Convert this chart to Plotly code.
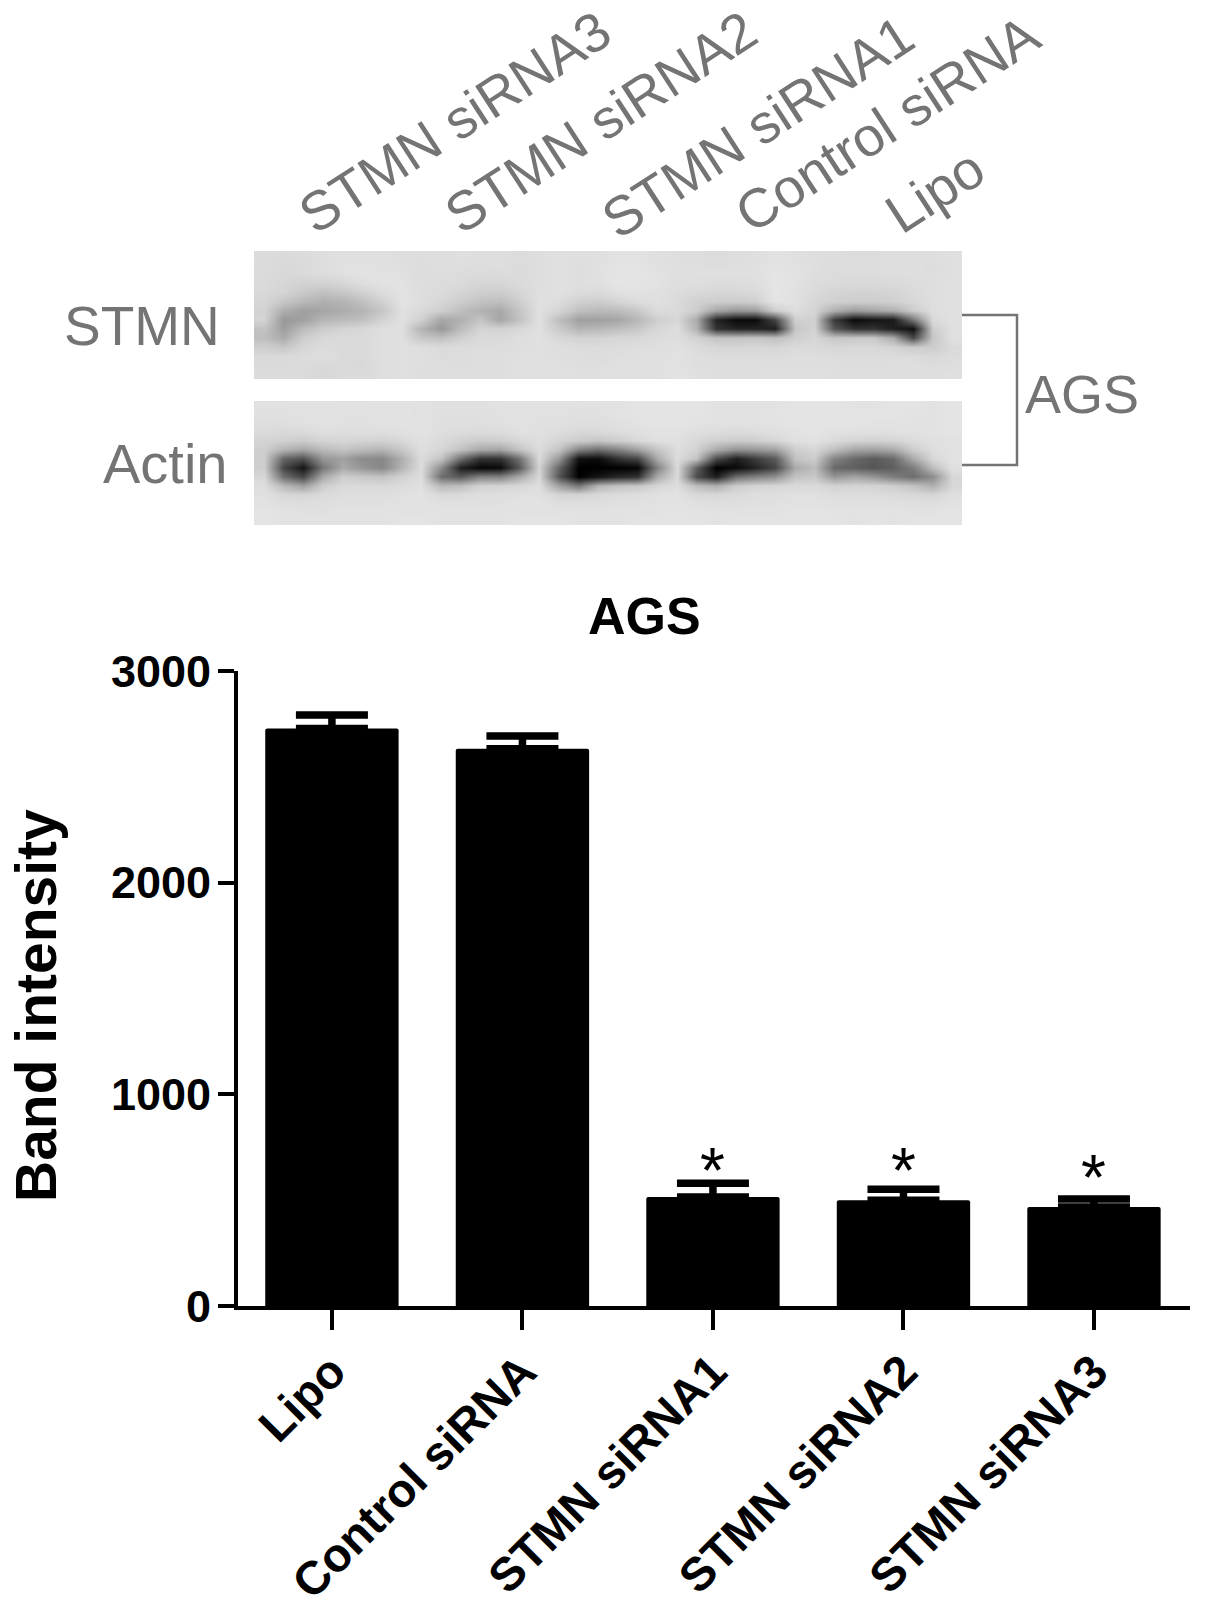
import plotly.graph_objects as go

W, H = 1205, 1611

categories = ["Lipo", "Control siRNA", "STMN siRNA1", "STMN siRNA2", "STMN siRNA3"]
band_intensity = [2728, 2633, 515, 500, 468]
band_error = [64, 60, 65, 52, 37]
asterisk_level = [None, None, 698, 698, 665]
y_ticks = [0, 1000, 2000, 3000]
lane_labels = ["STMN siRNA3", "STMN siRNA2", "STMN siRNA1", "Control siRNA", "Lipo"]

stmn_blot = [
 [220,218,220,222,224,223,224,222,221,222,223,222,221,220,222,224,223,224,226,226,224,222,221,220,221,223,226,224,222,221,220,220,222,222,222,224],
 [219,217,218,222,225,225,224,223,221,222,222,221,222,219,221,224,222,224,227,227,224,223,222,221,222,224,226,225,222,220,220,221,222,222,221,224],
 [219,216,218,221,224,226,226,224,220,221,220,219,220,219,222,224,222,224,228,228,226,222,224,224,224,224,228,226,222,220,220,220,221,222,221,224],
 [218,214,210,210,214,222,226,226,221,220,218,214,214,218,222,224,222,224,228,228,226,222,222,220,220,222,229,226,220,218,217,217,218,220,222,224],
 [216,212,200,192,198,208,220,226,221,219,212,206,204,214,223,224,220,218,224,226,224,220,216,214,214,217,229,224,218,212,210,210,212,218,222,224],
 [214,198,185,175,180,192,208,226,222,214,204,194,190,206,224,220,208,204,212,220,224,218,208,205,204,208,228,224,214,208,205,205,208,216,222,224],
 [210,175,160,165,172,180,198,224,218,206,190,178,168,198,224,212,192,186,188,200,220,218,205,165,150,155,205,222,212,175,155,165,175,203,222,224],
 [212,152,160,182,186,192,210,225,208,166,176,196,165,195,224,190,160,160,165,184,206,216,170,35,10,10,70,208,208,60,10,20,25,120,218,224],
 [195,158,188,204,212,216,222,224,180,152,188,212,210,216,224,202,180,184,190,200,215,222,178,50,35,35,30,198,212,85,50,50,30,15,205,224],
 [190,170,206,216,218,218,222,224,198,192,208,218,218,222,224,216,210,210,214,216,220,222,210,195,195,198,190,208,214,198,200,200,170,70,198,224],
 [206,200,214,220,218,218,222,224,222,218,220,220,220,222,224,222,220,220,220,222,222,224,220,214,214,215,214,218,218,215,216,216,212,204,205,218],
 [218,218,220,222,218,218,222,224,223,220,220,222,222,224,224,222,222,220,222,224,224,226,222,220,220,220,220,222,222,220,220,220,220,220,216,220],
 [218,218,220,216,218,216,222,224,222,222,220,222,222,224,224,224,222,222,224,224,224,226,222,222,222,222,222,222,222,222,220,220,222,222,220,222],
 [220,220,218,216,218,218,222,224,222,222,222,222,222,224,224,224,224,224,224,224,224,226,224,222,222,222,224,224,224,222,222,222,222,222,222,224],
]

actin_blot = [
 [225,225,226,226,225,225,226,226,225,224,224,224,225,226,226,226,225,226,226,228,228,228,228,226,226,226,226,228,228,228,226,226,228,228,226,228],
 [224,224,225,226,225,225,225,226,225,224,224,224,225,226,225,225,224,224,226,228,228,228,228,226,226,226,228,228,228,228,228,228,228,226,226,228],
 [222,222,224,226,224,224,225,226,226,223,223,223,224,226,224,224,222,222,224,226,228,228,226,225,225,225,226,228,228,228,228,226,226,226,226,228],
 [218,216,218,222,222,222,222,224,226,222,220,218,220,224,224,220,216,216,220,224,226,226,222,220,218,220,224,226,228,225,224,224,224,225,226,228],
 [212,208,204,212,214,212,210,216,224,218,210,204,206,216,222,212,204,198,206,216,224,224,216,208,204,206,214,224,226,218,212,210,212,220,224,226],
 [206,180,166,186,195,186,180,200,222,214,193,168,164,195,220,195,130,110,130,160,196,222,210,170,145,150,160,206,214,190,165,160,170,205,222,226],
 [205,100,80,150,160,140,135,175,220,195,110,50,50,115,218,150,15,10,50,70,170,220,195,75,30,60,90,195,205,130,105,90,105,170,215,226],
 [205,70,20,120,170,150,135,180,220,140,30,5,10,90,212,100,0,0,0,5,130,218,95,0,10,35,70,170,190,105,95,85,95,125,190,224],
 [215,110,70,170,205,200,195,210,222,110,90,130,130,170,216,85,0,20,40,50,170,218,75,30,110,130,145,195,200,150,165,150,125,110,140,215],
 [222,185,160,205,218,218,216,220,224,185,190,210,212,216,222,160,120,180,195,200,214,222,190,175,205,212,214,218,218,210,212,212,206,195,175,215],
 [224,214,212,218,222,222,222,224,226,216,218,222,222,224,224,212,210,216,220,222,224,226,216,214,218,222,222,224,224,220,220,220,218,216,212,222],
 [226,222,222,222,224,224,224,226,226,224,224,224,224,226,226,222,222,222,224,224,226,226,224,222,222,224,224,226,226,224,224,224,224,222,222,226],
 [228,226,224,224,226,226,226,226,226,226,226,226,226,226,226,226,226,226,226,226,226,228,226,226,226,226,226,228,228,226,226,226,226,226,226,228],
 [228,226,226,226,226,226,226,228,228,226,226,226,226,228,228,228,226,226,226,228,228,228,228,226,228,228,228,228,228,228,226,228,226,228,228,228],
]

for row in stmn_blot + actin_blot:
    assert len(row) == 36

FONT = "Liberation Sans"
GREY = "#747474"


def px(x):
    return x / W


def py(y):
    return 1 - y / H


fig = go.Figure()

fig.add_trace(go.Bar(
    x=categories, y=band_intensity, width=0.7,
    marker=dict(color="black", line=dict(width=0), cornerradius=2),
    error_y=dict(type="data", symmetric=False, array=band_error,
                 arrayminus=[0] * 5, color="black", thickness=7.5, width=36),
    hoverinfo="skip", xaxis="x", yaxis="y",
))

gray_scale = [[0, "#000000"], [1, "#ffffff"]]
for blot, xa, ya in [(stmn_blot, "x2", "y2"), (actin_blot, "x3", "y3")]:
    fig.add_trace(go.Heatmap(z=blot, colorscale=gray_scale, zmin=0, zmax=255,
                             zsmooth="best", showscale=False, hoverinfo="skip",
                             xaxis=xa, yaxis=ya))


def hidden(domain, rng, anchor):
    return dict(domain=domain, range=rng, visible=False, fixedrange=True, anchor=anchor,
                automargin=False)


fig.update_layout(
    template=None,
    width=W, height=H, margin=dict(l=0, r=0, t=0, b=0, pad=0, autoexpand=False),
    paper_bgcolor="white", plot_bgcolor="white", showlegend=False,
    font=dict(family=FONT, color="black"),
    xaxis=dict(domain=[px(238), px(1190)], range=[-0.493, 4.504], type="category",
               automargin=False,
               showgrid=False, zeroline=False, showline=True, linecolor="black", linewidth=4,
               ticks="outside", ticklen=20, tickwidth=4, tickcolor="black", tickangle=-45,
               ticklabelstandoff=-5,
               tickfont=dict(size=47, family=FONT, weight="bold"), anchor="y",
               categoryorder="array", categoryarray=categories),
    yaxis=dict(domain=[py(1306), py(671)], range=[0, 3000], tickvals=y_ticks,
               automargin=False,
               showgrid=False, zeroline=False, showline=True, linecolor="black", linewidth=4,
               ticks="outside", ticklen=16, tickwidth=4, tickcolor="black",
               ticklabelstandoff=-2,
               tickfont=dict(size=45, family=FONT, weight="bold"), anchor="x"),
    xaxis2=hidden([px(254), px(962)], [-0.5, 35.5], "y2"),
    yaxis2=hidden([py(379), py(251)], [13.5, -0.5], "x2"),
    xaxis3=hidden([px(254), px(962)], [-0.5, 35.5], "y3"),
    yaxis3=hidden([py(525), py(401)], [13.5, -0.5], "x3"),
)

# Bracket joining the two blot panels
fig.add_shape(type="path", xref="paper", yref="paper",
              path=f"M {px(962)},{py(315)} L {px(1017)},{py(315)} L {px(1017)},{py(465)} L {px(962)},{py(465)}",
              line=dict(color=GREY, width=2.5))


def text(t, x, y, size, color="black", angle=0, bold=False):
    fig.add_annotation(text=t, xref="paper", yref="paper", x=px(x), y=py(y),
                       xanchor="center", yanchor="middle", showarrow=False,
                       textangle=angle,
                       font=dict(size=size, color=color, family=FONT,
                                 weight="bold" if bold else "normal"))


text("AGS", 644, 616, 52, bold=True)
text("Band intensity", 36, 1006, 57, angle=-90, bold=True)
text("STMN", 142, 326, 55, GREY)
text("Actin", 165, 464, 56, GREY)
text("AGS", 1082, 394, 54, GREY)

lane_centres = [(455, 122), (601, 122), (758, 127), (887, 124), (935, 191)]
for lab, (cx, cy) in zip(lane_labels, lane_centres):
    text(lab, cx, cy, 55, GREY, angle=-33)

for cat, level in zip(categories, asterisk_level):
    if level is not None:
        fig.add_annotation(text="*", x=cat, y=level, xref="x", yref="y",
                           yanchor="middle", xanchor="center", showarrow=False,
                           yshift=-13, font=dict(size=64, color="black", family=FONT))

fig.write_html("out.html", config={"displayModeBar": False},
               post_script="document.body.style.margin='0';")
